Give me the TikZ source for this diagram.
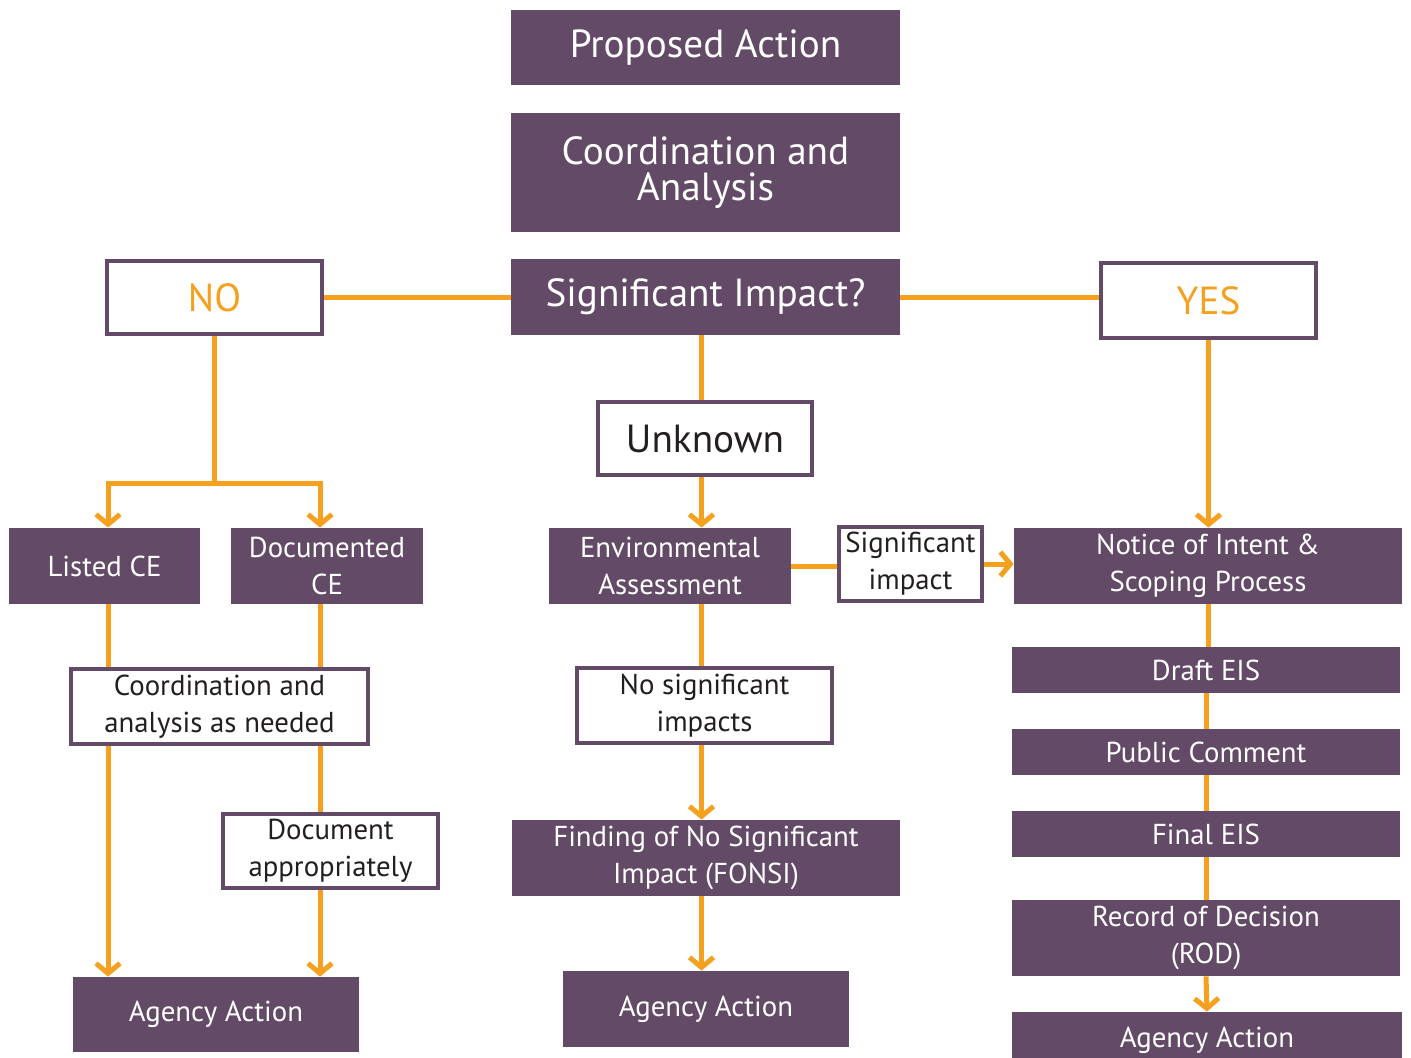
\documentclass[tikz,border=0pt]{standalone}
\usepackage{fontspec}
\setmainfont{PT Sans}
\usetikzlibrary{arrows.meta,backgrounds}
\definecolor{plum}{HTML}{634A66}
\definecolor{amber}{HTML}{F5A11F}
\definecolor{ink}{HTML}{231F20}
\tikzset{
	pbox/.style={fill=plum, text=white, inner sep=0pt, align=center},
	wbox/.style={fill=white, draw=plum, line width=2pt, text=ink, inner sep=0pt, align=center},
	big/.style={font=\fontsize{19.6}{18}\selectfont},
	small/.style={font=\fontsize{14.4}{18.5}\selectfont},
	link/.style={draw=amber, line width=2.5pt},
	arr/.style={link, -{Straight Barb[length=5pt,width=12pt]}}
}
\begin{document}
\begin{tikzpicture}[x=0.5pt, y=-0.5pt]
	\useasboundingbox (0,0) rectangle (1411,1057);
	% centre column
	\node[pbox, big, minimum width=194.5pt, minimum height=37.5pt] (prop) at (705.5,47.5) {Proposed Action};
	\node[pbox, big, minimum width=194.5pt, minimum height=59.5pt] (coord) at (705.5,172.5) {Coordination and\\Analysis};
	\node[pbox, big, minimum width=194.5pt, minimum height=38pt] (sig) at (705.5,297) {Significant Impact?};
	\node[wbox, big, text=amber, minimum width=107.5pt, minimum height=36.5pt] (no) at (214.5,297.5) {NO};
	\node[wbox, big, text=amber, minimum width=107.5pt, minimum height=37.5pt] (yes) at (1208.5,300.5) {YES};
	\node[wbox, big, minimum width=107pt, minimum height=36.5pt] (unk) at (705,438.5) {Unknown};
	\node[pbox, small, minimum width=121pt, minimum height=38pt] (ea) at (670,566) {Environmental\\Assessment};
	\node[wbox, small, minimum width=71.5pt, minimum height=37pt] (sigbox) at (910.5,564) {Significant\\impact};
	\node[wbox, small, minimum width=127.5pt, minimum height=37.5pt] (nosig) at (704.5,705.5) {No significant\\impacts};
	\node[pbox, small, minimum width=194pt, minimum height=38pt] (fonsi) at (706,858) {Finding of No Significant\\Impact (FONSI)};
	\node[pbox, small, minimum width=143pt, minimum height=38pt] (aam) at (706,1009) {Agency Action};
	% NO column
	\node[pbox, small, minimum width=95.5pt, minimum height=38pt] (lce) at (104.5,566) {Listed CE};
	\node[pbox, small, minimum width=96pt, minimum height=38pt] (dce) at (327,566) {Documented\\CE};
	\node[wbox, small, minimum width=148.5pt, minimum height=37.5pt] (cana) at (219.5,706.5) {Coordination and\\analysis as needed};
	\node[wbox, small, minimum width=107.5pt, minimum height=37pt] (docapp) at (330.5,851) {Document\\appropriately};
	\node[pbox, small, minimum width=143pt, minimum height=37.5pt] (aal) at (216,1014.5) {Agency Action};
	% YES column
	\node[pbox, small, minimum width=194pt, minimum height=38pt] (noi) at (1208,566) {Notice of Intent \&\\Scoping Process};
	\node[pbox, small, minimum width=194pt, minimum height=23pt] (draft) at (1206,670) {Draft EIS};
	\node[pbox, small, minimum width=194pt, minimum height=23pt] (pc) at (1206,752) {Public Comment};
	\node[pbox, small, minimum width=194pt, minimum height=23pt] (final) at (1206,834) {Final EIS};
	\node[pbox, small, minimum width=194pt, minimum height=38pt] (rod) at (1206,938) {Record of Decision\\(ROD)};
	\node[pbox, small, minimum width=195pt, minimum height=28pt] (aar) at (1207,1040) {Agency Action};
	\begin{pgfonlayer}{background}
		\draw[link] (no.east) -- (no.east -| sig.west);
		\draw[link] (sig.east) -- (sig.east -| yes.west);
		% NO branch
		\path (no.south) ++(0,147) coordinate (split);
		\coordinate (lcol) at ([xshift=1.75pt]lce.north);
		\coordinate (dcol) at ([xshift=-3.5pt]dce.north);
		\draw[link] (no.south) -- (split);
		\draw[arr] (split) -| (lcol);
		\draw[arr] (split) -| (dcol);
		\draw[arr] (lcol |- lce.south) -- (lcol |- aal.north);
		\draw[link] (dcol |- dce.south) -- (dcol |- docapp.north);
		\draw[arr] (dcol |- docapp.south) -- (dcol |- aal.north);
		% unknown branch
		\coordinate (mcol) at ([xshift=-1.75pt]unk.south);
		\draw[link] (mcol |- sig.south) -- (mcol |- unk.north);
		\draw[arr] (mcol) -- (mcol |- ea.north);
		\draw[link] (mcol |- ea.south) -- (mcol |- nosig.north);
		\draw[arr] (mcol |- nosig.south) -- (mcol |- fonsi.north);
		\draw[arr] (mcol |- fonsi.south) -- (mcol |- aam.north);
		\draw[link] (ea.east) -- (ea.east -| sigbox.west);
		\draw[arr] (sigbox.east) -- (sigbox.east -| noi.west);
		% YES branch
		\draw[arr] (yes.south) -- (yes.south |- noi.north);
		\draw[link] (noi.south) -- (noi.south |- draft.north);
		\draw[link] (draft.south) -- (pc.north);
		\draw[link] (pc.south) -- (final.north);
		\draw[link] (final.south) -- (rod.north);
		\draw[arr] (rod.south) -- (aar.north);
	\end{pgfonlayer}
\end{tikzpicture}
\end{document}
